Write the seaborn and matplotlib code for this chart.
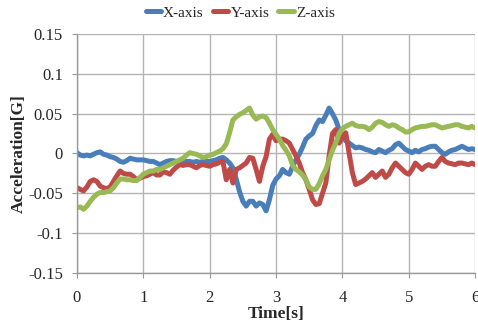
import numpy as np
import pandas as pd
import matplotlib
matplotlib.use("Agg")
import matplotlib.pyplot as plt
import seaborn as sns

# time base, 0.05 s steps
tiempo = np.round(np.arange(0, 6.001, 0.05), 2)

eje_x = [
    0.001, -0.002, -0.003, -0.002, -0.003, -0.001, 0.001, 0.002, -0.001, -0.002,
    -0.004, -0.005, -0.007, -0.010, -0.011, -0.009, -0.006, -0.007, -0.008, -0.008,
    -0.008, -0.009, -0.010, -0.010, -0.012, -0.014, -0.012, -0.010, -0.009, -0.009,
    -0.010, -0.010, -0.009, -0.010, -0.010, -0.011, -0.010, -0.011, -0.010, -0.010,
    -0.010, -0.009, -0.008, -0.006, -0.005, -0.008, -0.012, -0.018, -0.032, -0.048,
    -0.060, -0.066, -0.060, -0.060, -0.066, -0.062, -0.064, -0.072, -0.058, -0.040,
    -0.032, -0.028, -0.020, -0.024, -0.026, -0.016, -0.008, -0.001, 0.008, 0.018,
    0.022, 0.025, 0.035, 0.042, 0.040, 0.048, 0.057, 0.050, 0.042, 0.030,
    0.022, 0.016, 0.013, 0.010, 0.007, 0.008, 0.007, 0.005, 0.004, 0.002,
    0.001, 0.005, 0.003, 0.001, 0.004, 0.006, 0.011, 0.013, 0.009, 0.005,
    0.003, 0.001, 0.004, 0.002, 0.005, 0.006, 0.008, 0.009, 0.009, 0.005,
    0.001, -0.001, 0.002, 0.004, 0.005, 0.007, 0.009, 0.007, 0.005, 0.006,
    0.005,
]

eje_y = [
    -0.043, -0.045, -0.047, -0.042, -0.035, -0.033, -0.035, -0.041, -0.043, -0.044,
    -0.042, -0.035, -0.028, -0.022, -0.025, -0.026, -0.026, -0.029, -0.033, -0.031,
    -0.029, -0.028, -0.026, -0.024, -0.027, -0.027, -0.023, -0.024, -0.026, -0.021,
    -0.017, -0.014, -0.015, -0.014, -0.014, -0.016, -0.018, -0.015, -0.014, -0.015,
    -0.016, -0.014, -0.013, -0.011, -0.010, -0.033, -0.020, -0.037, -0.020, -0.018,
    -0.015, -0.012, -0.005, -0.006, -0.020, -0.035, -0.016, -0.004, 0.018, 0.024,
    0.016, 0.018, 0.018, 0.016, 0.013, 0.005, -0.003, -0.012, -0.024, -0.033,
    -0.045, -0.058, -0.064, -0.063, -0.050, -0.037, -0.003, 0.025, 0.030, 0.013,
    0.020, 0.026, 0.001, -0.024, -0.039, -0.037, -0.035, -0.032, -0.028, -0.024,
    -0.030, -0.026, -0.022, -0.030, -0.026, -0.018, -0.012, -0.016, -0.020, -0.024,
    -0.026, -0.020, -0.012, -0.016, -0.020, -0.016, -0.014, -0.016, -0.016, -0.010,
    -0.005, -0.010, -0.012, -0.013, -0.014, -0.012, -0.012, -0.013, -0.014, -0.012,
    -0.014,
]

eje_z = [
    -0.068, -0.067, -0.070, -0.066, -0.060, -0.055, -0.051, -0.049, -0.049, -0.048,
    -0.047, -0.043, -0.037, -0.032, -0.032, -0.033, -0.033, -0.034, -0.034, -0.030,
    -0.026, -0.024, -0.022, -0.022, -0.020, -0.020, -0.018, -0.016, -0.014, -0.012,
    -0.010, -0.008, -0.006, -0.002, 0.001, 0.000, -0.001, -0.003, -0.005, -0.004,
    -0.002, -0.001, 0.001, 0.003, 0.006, 0.012, 0.026, 0.042, 0.046, 0.049,
    0.051, 0.054, 0.057, 0.048, 0.043, 0.046, 0.047, 0.045, 0.038, 0.030,
    0.024, 0.018, 0.010, 0.004, -0.003, -0.015, -0.020, -0.023, -0.027, -0.033,
    -0.042, -0.045, -0.045, -0.038, -0.028, -0.020, -0.008, 0.004, 0.013, 0.025,
    0.031, 0.034, 0.036, 0.038, 0.035, 0.034, 0.034, 0.033, 0.030, 0.033,
    0.038, 0.040, 0.039, 0.036, 0.034, 0.036, 0.035, 0.032, 0.030, 0.027,
    0.027, 0.030, 0.032, 0.033, 0.034, 0.034, 0.035, 0.036, 0.036, 0.034,
    0.032, 0.033, 0.034, 0.035, 0.036, 0.036, 0.034, 0.033, 0.032, 0.034,
    0.032,
]

nombres = ["X-axis", "Y-axis", "Z-axis"]
colores = ["#4A7EBB", "#BE4B48", "#98B954"]

dados = pd.concat([
    pd.DataFrame({"Time": tiempo, "Accel": v, "Serie": n})
    for n, v in zip(nombres, [eje_x, eje_y, eje_z])
])

sns.set_style("white")
plt.rcParams["font.family"] = ["Liberation Serif", "DejaVu Serif"]

fig = plt.figure(figsize=(4.78, 3.29), dpi=100)
ax = fig.add_axes([0.161, 0.170, 0.833, 0.727])

sns.lineplot(data=dados, x="Time", y="Accel", hue="Serie", hue_order=nombres,
             palette=colores, linewidth=3.6, ax=ax, legend=True)

ax.set_xlim(0, 6)
ax.set_ylim(-0.15, 0.15)
ax.set_xticks(range(0, 7))
ax.set_yticks([-0.15, -0.1, -0.05, 0, 0.05, 0.1, 0.15])
ax.set_yticklabels(["-0.15", "-0.1", "-0.05", "0", "0.05", "0.1", "0.15"])
ax.grid(True, color="#b3b3b3", linewidth=1.0)
ax.set_axisbelow(True)
for lado in ["top", "right"]:
    ax.spines[lado].set_visible(False)
for lado in ["left", "bottom"]:
    ax.spines[lado].set_color("#999999")
    ax.spines[lado].set_linewidth(1.0)
ax.tick_params(axis="both", labelsize=12, length=3.6, color="#999999", direction="out",
               left=True, bottom=True, pad=6.5)
ax.tick_params(axis="x", pad=8.5)

ax.set_xlabel("Time[s]", fontsize=12.5, fontweight="bold", labelpad=0)
ax.set_ylabel("Acceleration[G]", fontsize=12.5, fontweight="bold", labelpad=1)

ax.legend(loc="lower center", bbox_to_anchor=(0.41, 1.06), ncol=3, frameon=False,
          fontsize=11, handlelength=1.0, handletextpad=0.15, columnspacing=0.6,
          borderaxespad=0, borderpad=0)

plt.savefig("out.png", dpi=100)
